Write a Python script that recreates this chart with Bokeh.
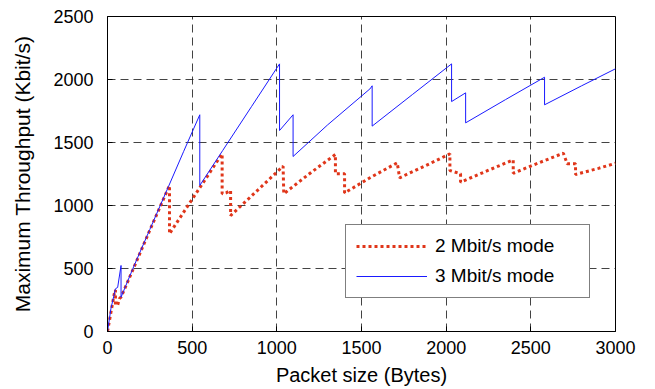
from bokeh.plotting import figure
from bokeh.models import Range1d, FixedTicker, Legend, LegendItem
from bokeh.embed import file_html
from bokeh.resources import INLINE

# 3 Mbit/s mode (blue)
blue_x = [0, 20, 47, 60, 80, 80, 150, 250, 360, 450, 545, 545, 680, 850, 1016, 1016,
          1096, 1096, 1300, 1545, 1550, 1563, 1563, 1800, 2032, 2032, 2115, 2115, 2350,
          2581, 2581, 2800, 3000]
blue_y = [0, 180, 339, 350, 524, 272, 500, 810, 1150, 1430, 1720, 1159, 1436, 1784,
          2124, 1595, 1720, 1389, 1640, 1920, 1925, 1950, 1630, 1880, 2124, 1825, 1894,
          1656, 1840, 2018, 1799, 1950, 2085]

# 2 Mbit/s mode (red)
red_x = [0, 20, 40, 47, 47, 60, 70, 81, 150, 250, 366, 366, 500, 677, 677, 700, 727, 727, 850,
         1037, 1041, 1041, 1200, 1346, 1346, 1400, 1400, 1550, 1711, 1725, 1900, 2022, 2022,
         2085, 2085, 2250, 2396, 2396, 2550, 2692, 2715, 2764, 2764, 2900, 3000]
red_y = [0, 150, 300, 330, 210, 210, 260, 275, 490, 805, 1159, 775, 1050, 1410, 1093, 1100, 1119,
         920, 1075, 1312, 1093, 1093, 1260, 1405, 1251, 1251, 1100, 1220, 1339, 1220, 1330,
         1410, 1278, 1251, 1185, 1280, 1362, 1256, 1340, 1415, 1331, 1331, 1246, 1295, 1335]

x_ticks = [0, 500, 1000, 1500, 2000, 2500, 3000]
y_ticks = [0, 500, 1000, 1500, 2000, 2500]

p = figure(width=655, height=389, output_backend="svg", toolbar_location=None,
           x_range=Range1d(0, 3000), y_range=Range1d(0, 2500),
           min_border_left=107, min_border_right=40, min_border_top=16, min_border_bottom=58)

p.outline_line_color = "black"
p.outline_line_width = 1
p.background_fill_color = "white"
p.border_fill_color = "white"

for ax in (p.xaxis, p.yaxis):
    ax.major_label_text_font = "Liberation Sans"
    ax.major_label_text_font_size = "18px"
    ax.major_label_text_color = "black"
    ax.axis_label_text_font = "Liberation Sans"
    ax.axis_label_text_font_style = "normal"
    ax.axis_label_text_color = "black"
    ax.major_tick_in = 5
    ax.major_tick_out = 0
    ax.minor_tick_line_color = None
    ax.axis_line_color = "black"
    ax.major_tick_line_color = "black"

p.xaxis.axis_label_text_font_size = "20px"
p.yaxis.axis_label_text_font_size = "21px"
p.xaxis.ticker = FixedTicker(ticks=x_ticks)
p.yaxis.ticker = FixedTicker(ticks=y_ticks)
p.xaxis.axis_label = "Packet size (Bytes)"
p.yaxis.axis_label = "Maximum Throughput (Kbit/s)"
p.xaxis.major_label_standoff = 9
p.yaxis.major_label_standoff = 14
p.xaxis.axis_label_standoff = 7
p.yaxis.axis_label_standoff = 16

for g in (p.xgrid, p.ygrid):
    g.grid_line_color = "#222222"
    g.grid_line_dash = "8 5"
    g.grid_line_width = 1
    g.grid_line_alpha = 0.85

r_red = p.line(red_x, red_y, line_color="#e0361a", line_width=3, line_dash="3 3")
r_blue = p.line(blue_x, blue_y, line_color="#1a1aff", line_width=1)

legend = Legend(items=[LegendItem(label="2 Mbit/s mode", renderers=[r_red]),
                       LegendItem(label="3 Mbit/s mode", renderers=[r_blue])],
                location=(238, 33))
legend.label_text_font = "Liberation Sans"
legend.label_text_font_size = "19px"
legend.label_text_color = "black"
legend.glyph_width = 71
legend.glyph_height = 20
legend.label_height = 20
legend.label_width = 144
legend.label_standoff = 8
legend.padding = 10
legend.spacing = 8
legend.margin = 0
legend.border_line_color = "black"
legend.border_line_width = 1
legend.background_fill_alpha = 1
p.add_layout(legend, "center")

open("out.html", "w").write(file_html(p, INLINE))
